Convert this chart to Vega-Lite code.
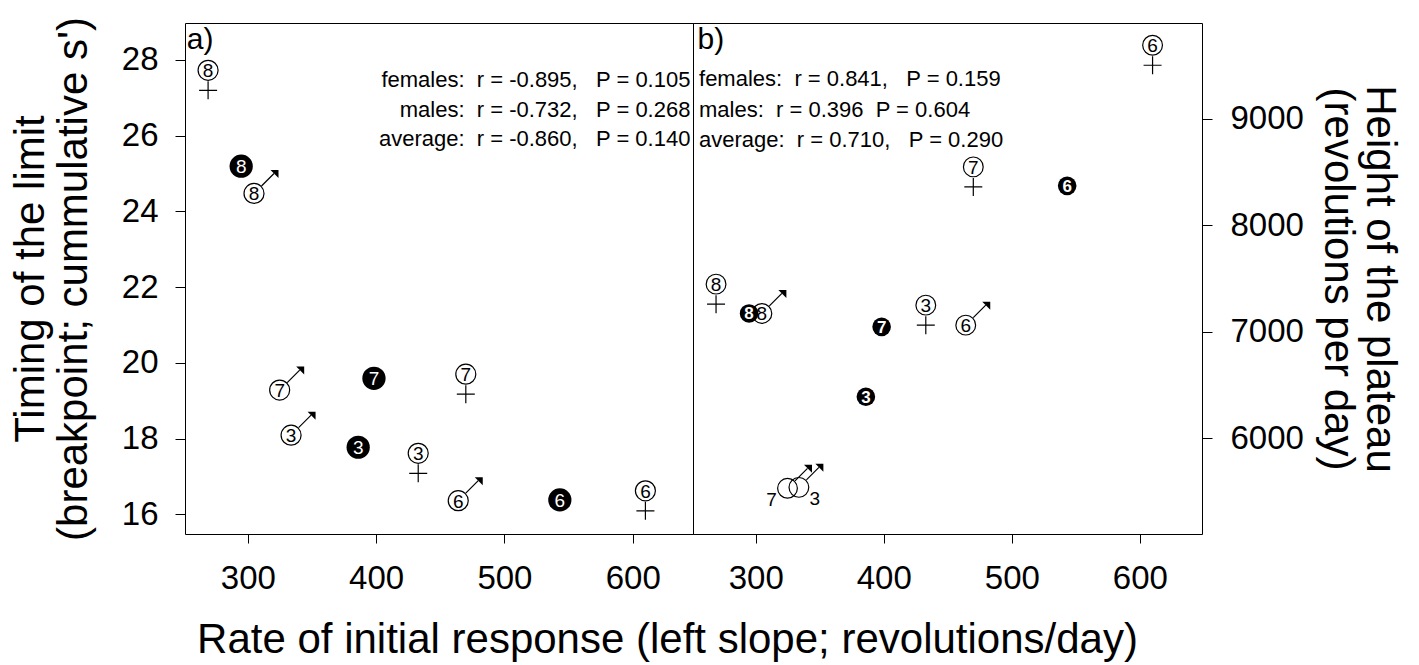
{
  "$schema": "https://vega.github.io/schema/vega-lite/v6.json",
  "background": "white",
  "padding": {"left": 8, "top": 16, "right": 5, "bottom": 2},
  "bounds": "flush",
  "spacing": 0,
  "config": {
    "font": "Liberation Sans",
    "view": {"stroke": "black", "strokeWidth": 1},
    "axis": {
      "grid": false, "domain": false, "tickColor": "black", "tickSize": 10, "tickWidth": 1,
      "labelColor": "black", "titleColor": "black", "labelFont": "Liberation Sans", "titleFont": "Liberation Sans",
      "labelFontSize": 33, "titleFontSize": 42, "titleFontWeight": "normal"
    }
  },
  "datasets": {
    "a": [
      {"id": "8", "sex": "female", "x": 269, "y": 27.72},
      {"id": "8", "sex": "male", "x": 304.8, "y": 24.47},
      {"id": "8", "sex": "average", "x": 294.8, "y": 25.19},
      {"id": "7", "sex": "female", "x": 469.9, "y": 19.70},
      {"id": "7", "sex": "male", "x": 324.8, "y": 19.28},
      {"id": "7", "sex": "average", "x": 398.3, "y": 19.59},
      {"id": "3", "sex": "female", "x": 432.8, "y": 17.61},
      {"id": "3", "sex": "male", "x": 333.7, "y": 18.09},
      {"id": "3", "sex": "average", "x": 386, "y": 17.77},
      {"id": "6", "sex": "female", "x": 609.9, "y": 16.62},
      {"id": "6", "sex": "male", "x": 464, "y": 16.36},
      {"id": "6", "sex": "average", "x": 543.2, "y": 16.38}
    ],
    "b": [
      {"id": "8", "sex": "female", "x": 269, "y": 7445},
      {"id": "8", "sex": "male", "x": 304.8, "y": 7170},
      {"id": "8", "sex": "average", "x": 294.8, "y": 7170},
      {"id": "7", "sex": "female", "x": 469.9, "y": 8546},
      {"id": "7", "sex": "male", "x": 324.8, "y": 5528},
      {"id": "7", "sex": "average", "x": 398.3, "y": 7044},
      {"id": "3", "sex": "female", "x": 432.8, "y": 7248},
      {"id": "3", "sex": "male", "x": 333.7, "y": 5537},
      {"id": "3", "sex": "average", "x": 386, "y": 6388},
      {"id": "6", "sex": "female", "x": 609.9, "y": 9688},
      {"id": "6", "sex": "male", "x": 464, "y": 7060},
      {"id": "6", "sex": "average", "x": 543.2, "y": 8368}
    ],
    "notes_a": [
      {"t": "females:\u00a0\u00a0r = -0.895,\u00a0\u00a0\u00a0P = 0.105", "x": 645, "y": 27.29},
      {"t": "males:\u00a0\u00a0r = -0.732,\u00a0\u00a0\u00a0P = 0.268", "x": 645, "y": 26.50},
      {"t": "average:\u00a0\u00a0r = -0.860,\u00a0\u00a0\u00a0P = 0.140", "x": 645, "y": 25.71}
    ],
    "notes_b": [
      {"t": "females:\u00a0\u00a0r = 0.841,\u00a0\u00a0\u00a0P = 0.159", "x": 255.7, "y": 9301},
      {"t": "males:\u00a0\u00a0r = 0.396\u00a0\u00a0P = 0.604", "x": 255.7, "y": 9019},
      {"t": "average:\u00a0\u00a0r = 0.710,\u00a0\u00a0\u00a0P = 0.290", "x": 255.7, "y": 8737}
    ],
    "lab_a": [{"t": "a)", "x": 252.4, "y": 28.28}],
    "lab_b": [{"t": "b)", "x": 254.5, "y": 9653}]
  },
  "hconcat": [
    {
      "width": 508,
      "height": 511,
      "data": {"name": "a"},
      "encoding": {
        "x": {
          "field": "x", "type": "quantitative",
          "scale": {"domain": [251, 647], "nice": false, "zero": false},
          "axis": {
            "values": [300, 400, 500, 600], "tickSize": 9, "labelPadding": 45, "labelBaseline": "alphabetic",
            "title": "Rate of initial response (left slope; revolutions/day)",
            "titleX": 482, "titleY": 118, "titleBaseline": "alphabetic", "titleAlign": "center", "titleFontSize": 42
          }
        },
        "y": {
          "field": "y", "type": "quantitative",
          "scale": {"domain": [15.48, 28.97], "nice": false, "zero": false},
          "axis": {
            "values": [16, 18, 20, 22, 24, 26, 28], "labelPadding": 17,
            "title": ["Timing of the limit", "(breakpoint; cummulative s')"],
            "titleX": -142, "titleBaseline": "alphabetic", "titleLineHeight": 43, "titleFontSize": 42
          }
        }
      },
      "layer": [
        {
          "transform": [{"filter": "datum.sex === 'female'"}],
          "mark": {"type": "point", "shape": "M0,11L0,29M-9,20L9,20", "size": 4, "filled": false, "stroke": "black", "strokeWidth": 1.2, "opacity": 1}
        },
        {
          "transform": [{"filter": "datum.sex === 'male'"}],
          "mark": {"type": "point", "shape": "M7.5,-7.5L20,-20", "size": 4, "filled": false, "stroke": "black", "strokeWidth": 1.2, "opacity": 1}
        },
        {
          "transform": [{"filter": "datum.sex === 'male'"}],
          "mark": {"type": "point", "shape": "M24.5,-23.5L16.5,-23.5L24.5,-15.5Z", "size": 4, "filled": true, "fill": "black", "strokeWidth": 0, "opacity": 1}
        },
        {
          "transform": [{"filter": "datum.sex !== 'average'"}],
          "mark": {"type": "point", "shape": "circle", "size": 400, "filled": false, "stroke": "black", "strokeWidth": 1.2, "opacity": 1}
        },
        {
          "transform": [{"filter": "datum.sex === 'average'"}],
          "mark": {"type": "point", "shape": "circle", "size": 540, "filled": true, "fill": "black", "strokeWidth": 0, "opacity": 1}
        },
        {
          "transform": [{"filter": "datum.sex !== 'average'"}],
          "mark": {"type": "text", "fontSize": 19, "color": "black", "align": "center", "baseline": "middle", "dy": 1},
          "encoding": {"text": {"field": "id"}}
        },
        {
          "transform": [{"filter": "datum.sex === 'average'"}],
          "mark": {"type": "text", "fontSize": 19, "color": "white", "align": "center", "baseline": "middle", "dy": 1},
          "encoding": {"text": {"field": "id"}}
        },
        {
          "data": {"name": "notes_a"},
          "mark": {"type": "text", "fontSize": 22, "color": "black", "align": "right", "baseline": "alphabetic"},
          "encoding": {"text": {"field": "t"}}
        },
        {
          "data": {"name": "lab_a"},
          "mark": {"type": "text", "fontSize": 30, "color": "black", "align": "left", "baseline": "alphabetic"},
          "encoding": {"text": {"field": "t"}}
        }
      ]
    },
    {
      "width": 509,
      "height": 511,
      "data": {"name": "b"},
      "encoding": {
        "x": {
          "field": "x", "type": "quantitative",
          "scale": {"domain": [251, 648.5], "nice": false, "zero": false},
          "axis": {"values": [300, 400, 500, 600], "tickSize": 9, "labelPadding": 45, "labelBaseline": "alphabetic", "title": null}
        },
        "y": {
          "field": "y", "type": "quantitative",
          "scale": {"domain": [5099, 9897], "nice": false, "zero": false},
          "axis": {
            "orient": "right", "values": [6000, 7000, 8000, 9000], "format": "d", "labelPadding": 18,
            "title": ["Height of the plateau", "(revolutions per day)"],
            "titleX": 164, "titleAngle": 90, "titleBaseline": "alphabetic", "titleLineHeight": 42, "titleFontSize": 42
          }
        }
      },
      "layer": [
        {
          "transform": [{"filter": "datum.sex === 'female'"}],
          "mark": {"type": "point", "shape": "M0,11L0,29M-9,20L9,20", "size": 4, "filled": false, "stroke": "black", "strokeWidth": 1.2, "opacity": 1}
        },
        {
          "transform": [{"filter": "datum.sex === 'male'"}],
          "mark": {"type": "point", "shape": "M7.5,-7.5L20,-20", "size": 4, "filled": false, "stroke": "black", "strokeWidth": 1.2, "opacity": 1}
        },
        {
          "transform": [{"filter": "datum.sex === 'male'"}],
          "mark": {"type": "point", "shape": "M24.5,-23.5L16.5,-23.5L24.5,-15.5Z", "size": 4, "filled": true, "fill": "black", "strokeWidth": 0, "opacity": 1}
        },
        {
          "transform": [{"filter": "datum.sex !== 'average'"}],
          "mark": {"type": "point", "shape": "circle", "size": 390, "filled": false, "stroke": "black", "strokeWidth": 1.2, "opacity": 1}
        },
        {
          "transform": [{"filter": "datum.sex === 'average'"}],
          "mark": {"type": "point", "shape": "circle", "size": 346, "filled": true, "fill": "black", "strokeWidth": 0, "opacity": 1}
        },
        {
          "transform": [{"filter": "datum.sex === 'female' || (datum.sex === 'male' && datum.id !== '7' && datum.id !== '3')"}],
          "mark": {"type": "text", "fontSize": 19, "color": "black", "align": "center", "baseline": "middle", "dy": 1},
          "encoding": {"text": {"field": "id"}}
        },
        {
          "transform": [{"filter": "datum.sex === 'male' && datum.id === '7'"}],
          "mark": {"type": "text", "fontSize": 19, "color": "black", "align": "center", "baseline": "middle", "dx": -16, "dy": 12},
          "encoding": {"text": {"field": "id"}}
        },
        {
          "transform": [{"filter": "datum.sex === 'male' && datum.id === '3'"}],
          "mark": {"type": "text", "fontSize": 19, "color": "black", "align": "center", "baseline": "middle", "dx": 16, "dy": 12},
          "encoding": {"text": {"field": "id"}}
        },
        {
          "transform": [{"filter": "datum.sex === 'average'"}],
          "mark": {"type": "text", "fontSize": 17, "fontWeight": "bold", "color": "white", "align": "center", "baseline": "middle", "dy": 1},
          "encoding": {"text": {"field": "id"}}
        },
        {
          "data": {"name": "notes_b"},
          "mark": {"type": "text", "fontSize": 22, "color": "black", "align": "left", "baseline": "alphabetic"},
          "encoding": {"text": {"field": "t"}}
        },
        {
          "data": {"name": "lab_b"},
          "mark": {"type": "text", "fontSize": 30, "color": "black", "align": "left", "baseline": "alphabetic"},
          "encoding": {"text": {"field": "t"}}
        }
      ]
    }
  ]
}
